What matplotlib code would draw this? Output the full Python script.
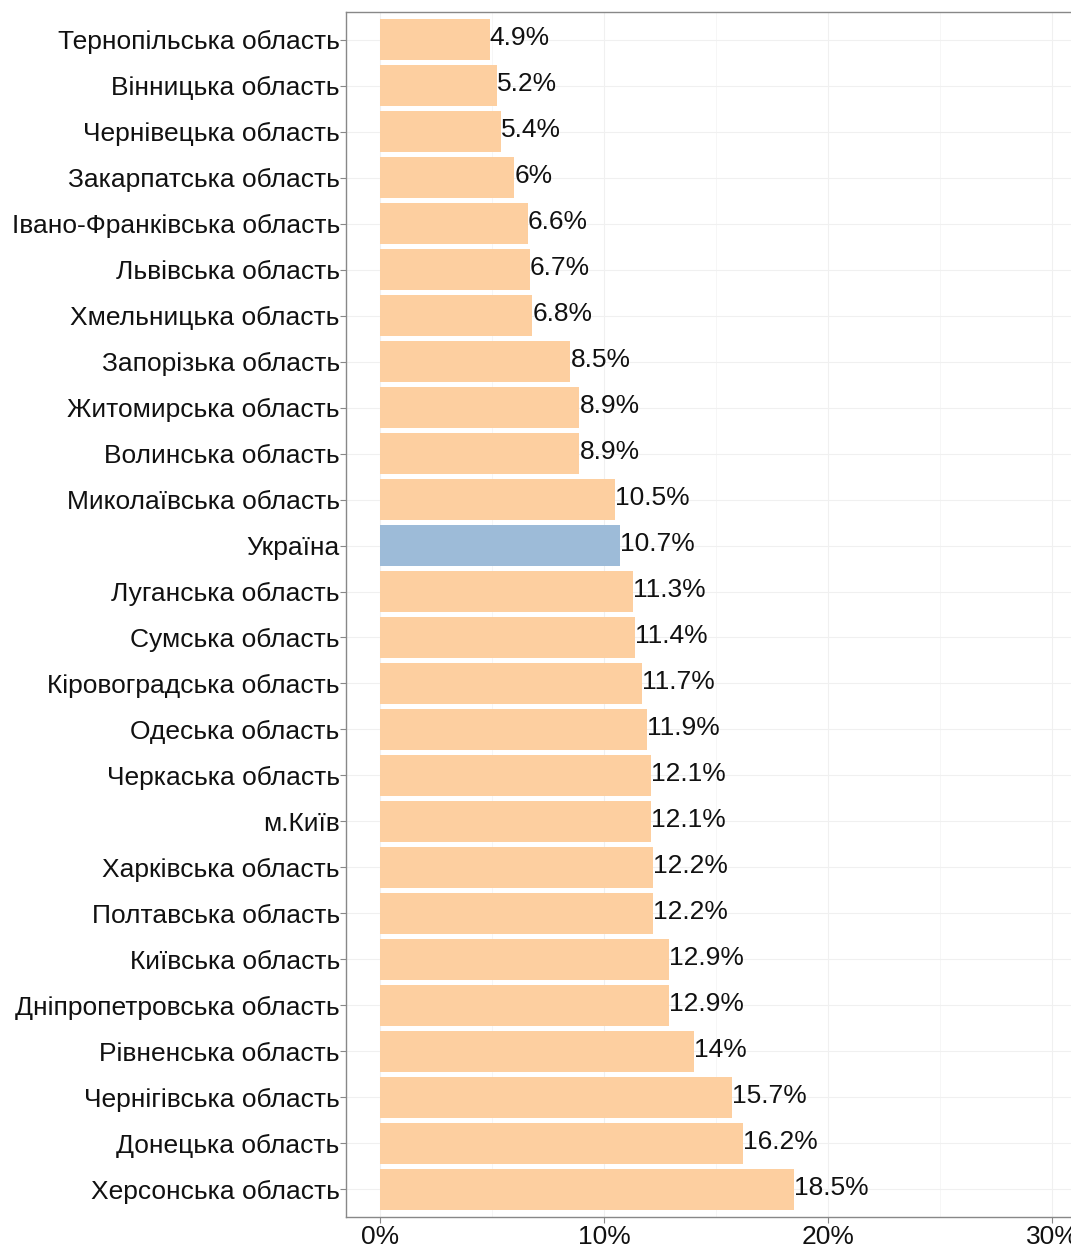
import matplotlib
matplotlib.use("Agg")
import matplotlib.pyplot as plt
from matplotlib.ticker import MultipleLocator, FuncFormatter

regions = ["Тернопільська область", "Вінницька область", "Чернівецька область",
           "Закарпатська область", "Івано-Франківська область", "Львівська область",
           "Хмельницька область", "Запорізька область", "Житомирська область",
           "Волинська область", "Миколаївська область", "Україна",
           "Луганська область", "Сумська область", "Кіровоградська область",
           "Одеська область", "Черкаська область", "м.Київ",
           "Харківська область", "Полтавська область", "Київська область",
           "Дніпропетровська область", "Рівненська область", "Чернігівська область",
           "Донецька область", "Херсонська область"]
values = [4.9, 5.2, 5.4, 6, 6.6, 6.7, 6.8, 8.5, 8.9, 8.9, 10.5, 10.7,
          11.3, 11.4, 11.7, 11.9, 12.1, 12.1, 12.2, 12.2, 12.9, 12.9,
          14, 15.7, 16.2, 18.5]
highlight = "Україна"
x_ticks = [0, 10, 20, 30]

plt.rcParams['font.family'] = ['Liberation Sans', 'DejaVu Sans']
FS = 19

fig = plt.figure(figsize=(10.71, 12.47), dpi=100)
ax = fig.add_axes([346/1071, 30/1247, 1 - 346/1071, 1205/1247])

colors = ["#9DBBD8" if r == highlight else "#FDCFA0" for r in regions]
ypos = list(range(len(regions)))
ax.barh(ypos, values, height=0.9, color=colors, zorder=2)

for y, v in zip(ypos, values):
    lbl = f"{v:g}%"
    ax.text(v, y - 0.03, lbl, ha='left', va='center', fontsize=FS, color='#111111', zorder=3)

ax.set_yticks(ypos)
ax.set_yticklabels(regions, fontsize=FS, color='#111111')
ax.set_ylim(len(regions) - 0.4, -0.6)
ax.set_xlim(-1.52, 30.85)
ax.set_xticks(x_ticks)
ax.xaxis.set_major_formatter(FuncFormatter(lambda v, p: f"{v:g}%"))
ax.xaxis.set_minor_locator(MultipleLocator(5))
ax.tick_params(axis='x', labelsize=FS, colors='#111111', length=4, color='#888888', pad=2)
ax.tick_params(axis='x', which='minor', length=0)
ax.tick_params(axis='y', length=4, color='#888888', pad=0.5)

ax.grid(True, which='major', axis='both', color='#F0F0F0', linewidth=0.8, zorder=0)
ax.grid(True, which='minor', axis='x', color='#F5F5F5', linewidth=0.6, zorder=0)
ax.set_axisbelow(True)

for s in ['left', 'bottom', 'top']:
    ax.spines[s].set_color('#888888')
    ax.spines[s].set_linewidth(1.0)
ax.spines['right'].set_visible(False)

fig.savefig("out.png", dpi=100, facecolor='white')
